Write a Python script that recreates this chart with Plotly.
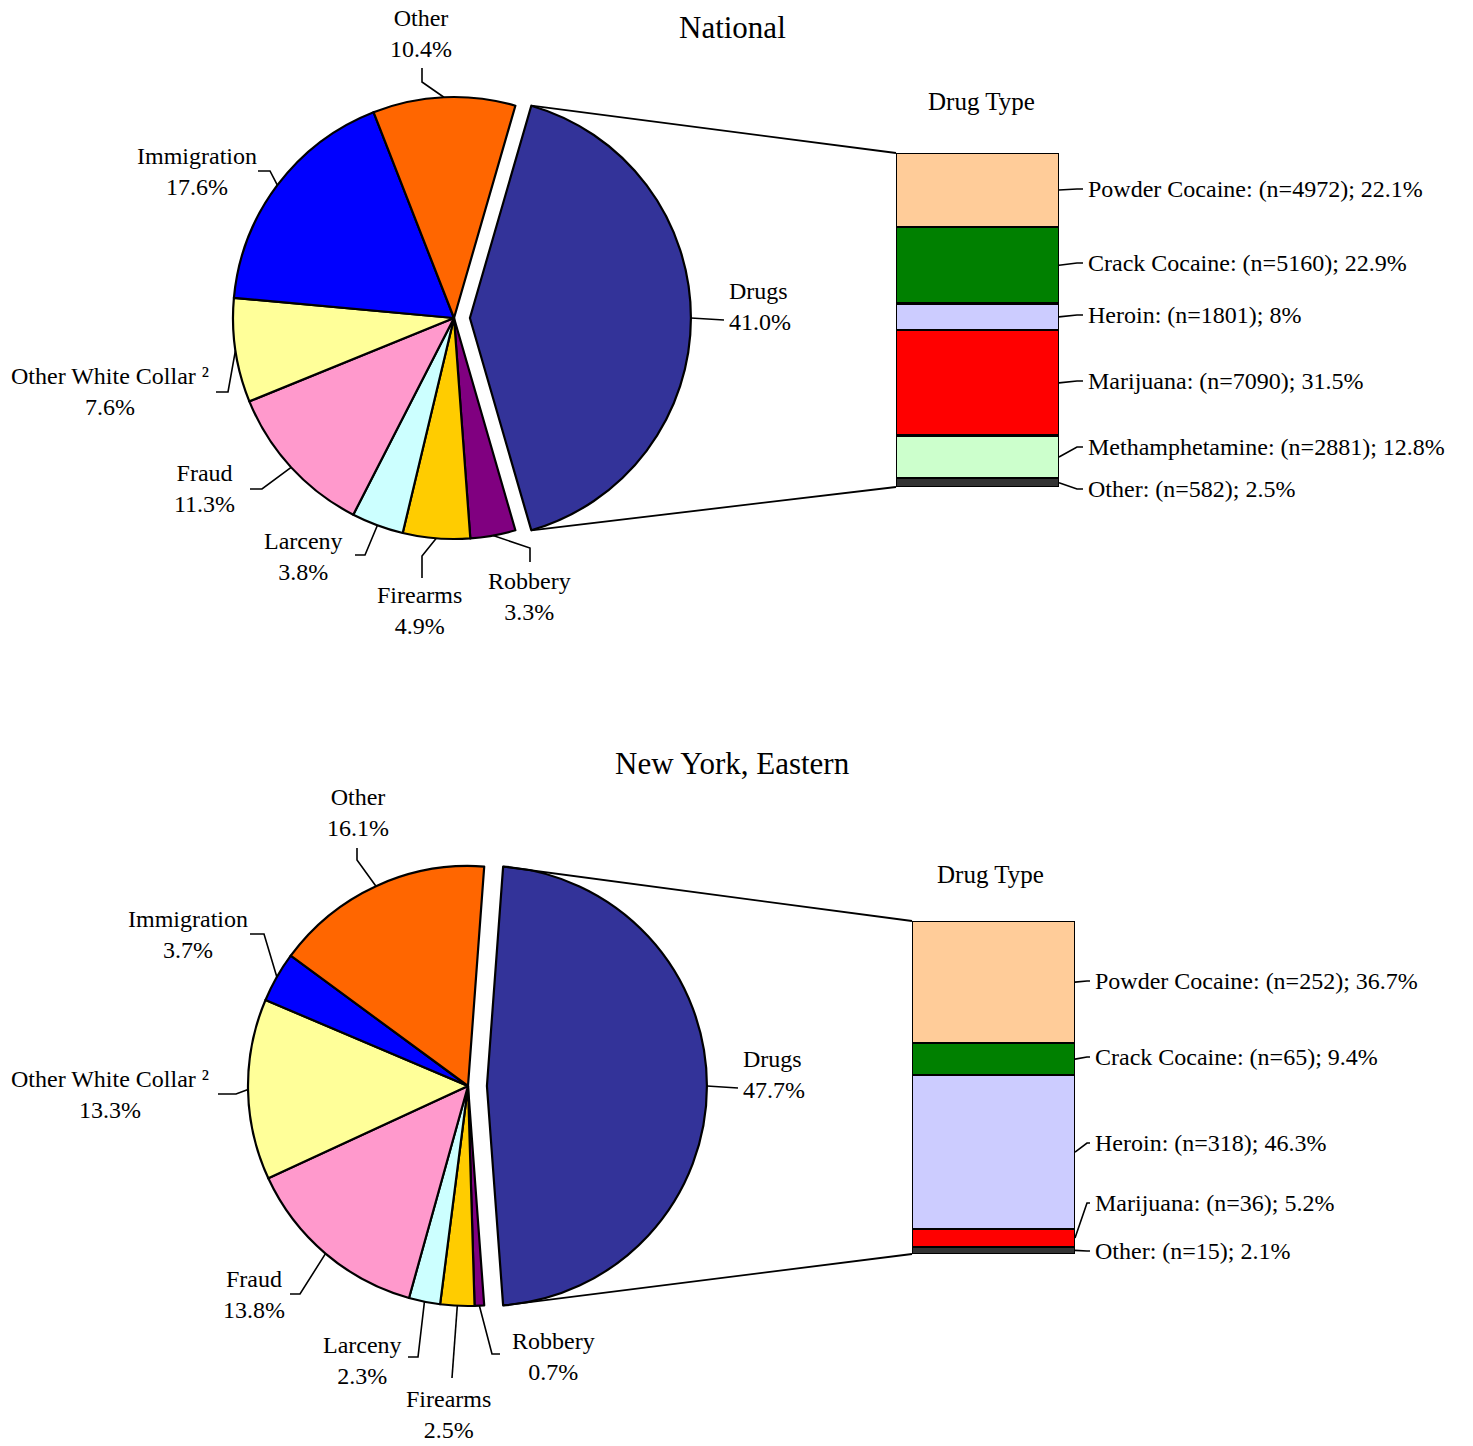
import math
import plotly.graph_objects as go

# ---------------- data ----------------
offenses = ["Drugs", "Robbery", "Firearms", "Larceny", "Fraud",
            "Other White Collar \u00b2", "Immigration", "Other"]
nat_pct = [41.0, 3.3, 4.9, 3.8, 11.3, 7.6, 17.6, 10.4]
ny_pct = [47.7, 0.7, 2.5, 2.3, 13.8, 13.3, 3.7, 16.1]
offense_colors = ["#333399", "#800080", "#FFCC00", "#CCFFFF", "#FF99CC",
                  "#FFFF99", "#0000FF", "#FF6600"]

nat_drugs = ["Powder Cocaine", "Crack Cocaine", "Heroin", "Marijuana",
             "Methamphetamine", "Other"]
nat_drug_n = [4972, 5160, 1801, 7090, 2881, 582]
nat_drug_pct = [22.1, 22.9, 8, 31.5, 12.8, 2.5]

ny_drugs = ["Powder Cocaine", "Crack Cocaine", "Heroin", "Marijuana", "Other"]
ny_drug_n = [252, 65, 318, 36, 15]
ny_drug_pct = [36.7, 9.4, 46.3, 5.2, 2.1]

drug_colors = {"Powder Cocaine": "#FFCC99", "Crack Cocaine": "#008000",
               "Heroin": "#CCCCFF", "Marijuana": "#FF0000",
               "Methamphetamine": "#CCFFCC", "Other": "#333333"}

# ---------------- layout constants (pixels of the page) ----------------
W, H = 1473, 1446
FONT = "Liberation Serif"


def PX(X):
    return X / W


def PY(Y):
    return 1 - Y / H


panels = [
    dict(title="National", title_xy=(732, 27), pcts=nat_pct,
         center=(454, 318), r=221, pull=0.072,
         bar_box=(896, 153, 1059, 487), drugs=nat_drugs, n=nat_drug_n,
         dpct=nat_drug_pct, drugtype_xy=(981, 102), bar_gap=27,
         bar_label_y=[189, 263, 315, 381, 447, 489],
         xa="x", ya="y",
         labels={
             "Other": ((421, 33), [(422, 82), (422, 68)]),
             "Immigration": ((197, 171), [(270, 171), (258, 171)]),
             "Other White Collar \u00b2": ((110, 392), [(228, 392), (216, 392)]),
             "Fraud": ((204, 488), [(262, 489), (250, 489)]),
             "Larceny": ((303, 556), [(365, 555), (355, 555)]),
             "Firearms": ((420, 610), [(422, 556), (422, 578)]),
             "Robbery": ((529, 596), [(530, 548), (530, 562)]),
             "Drugs": ((727, 306), [(724, 320)]),
         }),
    dict(title="New York, Eastern", title_xy=(732, 763), pcts=ny_pct,
         center=(468, 1086), r=220, pull=0.086,
         bar_box=(912, 921, 1075, 1254), drugs=ny_drugs, n=ny_drug_n,
         dpct=ny_drug_pct, drugtype_xy=(991, 874), bar_gap=18,
         bar_label_y=[981, 1057, 1143, 1203, 1251],
         xa="x2", ya="y2",
         labels={
             "Other": ((358, 812), [(357, 860), (357, 848)]),
             "Immigration": ((188, 934), [(264, 934), (250, 934)]),
             "Other White Collar \u00b2": ((110, 1094), [(236, 1094), (218, 1094)]),
             "Fraud": ((254, 1294), [(300, 1294), (290, 1294)]),
             "Larceny": ((362, 1360), [(418, 1357), (408, 1357)]),
             "Firearms": ((449, 1414), [(452, 1378)]),
             "Robbery": ((553, 1356), [(492, 1354), (500, 1354)]),
             "Drugs": ((741, 1074), [(738, 1088)]),
         }),
]

fig = go.Figure()
shapes = []
annotations = []


def path_paper(points):
    return "M " + " L ".join(f"{PX(x):.6f},{PY(y):.6f}" for x, y in points)


def add_line(points, width=1.6):
    shapes.append(dict(type="path", xref="paper", yref="paper",
                       path=path_paper(points),
                       line=dict(color="black", width=width)))


for p in panels:
    pcts = p["pcts"]
    total = sum(pcts)
    cx, cy = p["center"]
    r, pull = p["r"], p["pull"]
    # rotate so the Drugs slice is centred at 3 o'clock
    rotation = 90 - 180 * pcts[0] / total
    half = r * (1 + pull)
    pulls = [pull] + [0] * (len(pcts) - 1)

    fig.add_trace(go.Pie(
        labels=offenses, values=pcts, sort=False, direction="clockwise",
        rotation=rotation, pull=pulls, textinfo="none", hoverinfo="label+value",
        marker=dict(colors=offense_colors, line=dict(color="black", width=2.2)),
        domain=dict(x=[PX(cx - half), PX(cx + half)],
                    y=[PY(cy + half), PY(cy - half)]),
        showlegend=False,
    ))

    # slice angles (clockwise from 12 o'clock)
    a = rotation
    geo = []
    for v in pcts:
        span = 360 * v / total
        geo.append((a, a + span, a + span / 2))
        a += span

    def pt(ox, oy, ang):
        t = math.radians(ang)
        return (ox + r * math.sin(t), oy - r * math.cos(t))

    tipx, tipy = cx + pull * r, cy

    # labels + leader lines
    for name, v, (a0, a1, am) in zip(offenses, pcts, geo):
        (tx, ty), rest = p["labels"][name]
        if name == "Drugs":
            start = pt(tipx, tipy, am)
            annotations.append(dict(
                x=PX(tx), y=PY(ty), xref="paper", yref="paper",
                text=f"{name}<br>{v:.1f}%", showarrow=False,
                xanchor="left", yanchor="middle", align="left",
                font=dict(size=24, family=FONT, color="black")))
        else:
            start = pt(cx, cy, am)
            annotations.append(dict(
                x=PX(tx), y=PY(ty), xref="paper", yref="paper",
                text=f"{name}<br>{v:.1f}%", showarrow=False,
                xanchor="center", yanchor="middle", align="center",
                font=dict(size=24, family=FONT, color="black")))
        add_line([start] + rest)

    # stacked bar of drug types
    bx0, by0, bx1, by1 = p["bar_box"]
    ntot = sum(p["n"])
    for d, nv in zip(p["drugs"], p["n"]):
        fig.add_trace(go.Bar(
            x=[0], y=[nv], width=1, name=d, xaxis=p["xa"], yaxis=p["ya"],
            marker=dict(color=drug_colors[d], line=dict(color="black", width=2.2)),
            showlegend=False, hoverinfo="name+y"))
    axn = "" if p["xa"] == "x" else "2"
    fig.update_layout({
        f"xaxis{axn}": dict(domain=[PX(bx0), PX(bx1)], range=[-0.5, 0.5],
                            visible=False, fixedrange=True,
                            anchor=p["ya"]),
        f"yaxis{axn}": dict(domain=[PY(by1), PY(by0)], range=[ntot, 0],
                            visible=False, fixedrange=True,
                            anchor=p["xa"]),
    })

    # connector lines from exploded Drugs slice to the bar
    top_edge = pt(tipx, tipy, geo[0][0])
    bot_edge = pt(tipx, tipy, geo[0][1])
    add_line([top_edge, (bx0, by0)], width=1.8)
    add_line([bot_edge, (bx0, by1)], width=1.8)

    # bar segment labels
    cum = 0
    for d, nv, pc, ly in zip(p["drugs"], p["n"], p["dpct"], p["bar_label_y"]):
        mid = by0 + (cum + nv / 2) / ntot * (by1 - by0)
        cum += nv
        lx = bx1 + p["bar_gap"]
        knee_x = bx1 + min(18, p["bar_gap"] - 6)
        add_line([(bx1, mid), (knee_x, ly), (lx - 3, ly)], width=1.6)
        annotations.append(dict(
            x=PX(lx), y=PY(ly), xref="paper", yref="paper",
            text=f"{d}: (n={nv}); {pc:g}%", showarrow=False,
            xanchor="left", yanchor="middle",
            font=dict(size=24, family=FONT, color="black")))

    # titles
    annotations.append(dict(
        x=PX(p["drugtype_xy"][0]), y=PY(p["drugtype_xy"][1]), xref="paper",
        yref="paper", text="Drug Type", showarrow=False, xanchor="center",
        yanchor="middle", font=dict(size=25, family=FONT, color="black")))
    annotations.append(dict(
        x=PX(p["title_xy"][0]), y=PY(p["title_xy"][1]), xref="paper",
        yref="paper", text=p["title"], showarrow=False, xanchor="center",
        yanchor="middle", font=dict(size=31, family=FONT, color="black")))

fig.update_layout(
    width=W, height=H, margin=dict(l=0, r=0, t=0, b=0, pad=0),
    paper_bgcolor="white", plot_bgcolor="white", barmode="stack",
    showlegend=False, font=dict(family=FONT, color="black"),
    shapes=shapes, annotations=annotations,
)

fig.write_html(
    "out.html",
    config={"displayModeBar": False},
    post_script="document.body.style.margin='0';"
                "document.body.style.overflow='hidden';",
)
